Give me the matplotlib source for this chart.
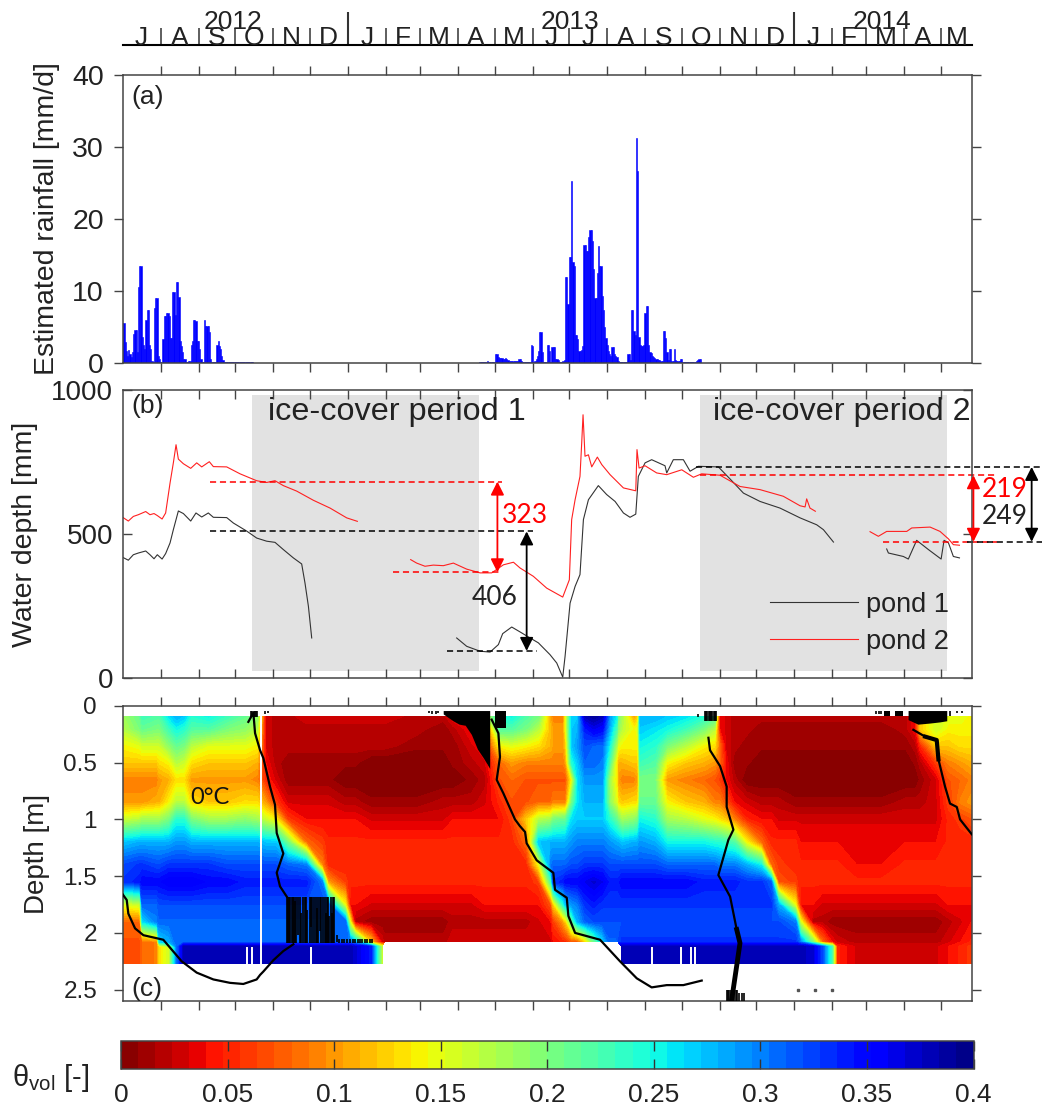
import matplotlib
matplotlib.use('Agg')
import matplotlib.pyplot as plt
import numpy as np

plt.rcParams['font.family'] = ['Liberation Sans', 'DejaVu Sans']
plt.rcParams['mathtext.fontset'] = 'custom'
plt.rcParams['mathtext.rm'] = 'Liberation Sans'
plt.rcParams['axes.linewidth'] = 1.1

# x axis is days since 1 July 2012
month_days = [0, 31, 62, 92, 123, 153, 184, 215, 243, 274, 304, 335, 365, 396,
              427, 457, 488, 518, 549, 580, 608, 639, 669]
month_letters = ['J', 'A', 'S', 'O', 'N', 'D', 'J', 'F', 'M', 'A', 'M', 'J', 'J',
                 'A', 'S', 'O', 'N', 'D', 'J', 'F', 'M', 'A', 'M']
year_ticks = [184, 549]
year_labels = ['2012', '2013', '2014']
year_label_days = [90, 365.6, 620.4]
x_end = 694

# rainfall, daily values [mm/d]
rain_2012 = [5.6, 5.6, 2.9, 1.7, 1, 1.8, 1.3, 0.8, 1.5, 4, 4.6, 4.6, 1.5, 10.5, 13.5, 13.5,
             3.6, 2.5, 2, 6, 7.3, 7.3, 2.5, 1.9, 0.3, 0.1, 7.6, 9, 9, 1, 0.5, 0.1, 0, 3.3,
             6.5, 6.5, 7, 7, 6.5, 3.5, 3.5, 9.8, 9.8, 6.7, 11.3, 11.3, 9.2, 3, 2.3, 1.5, 0.5,
             0.5, 0.2, 0.2, 0.3, 0.3, 2.5, 3, 6, 6, 5.8, 3, 3, 2, 0.5, 0.2, 0.2, 6, 5.2, 5.2,
             5.2, 4.3, 0.5, 0.2, 0.2, 0.2, 0.2, 2.5, 3, 2.4, 2, 1, 0.4, 0.1, 0.1, 0.1, 0.1,
             0.1, 0.1, 0.1, 0.1, 0.1, 0.1, 0.1, 0.1, 0.1, 0.1, 0.1, 0.1, 0.1, 0.1, 0.1, 0.1,
             0.1, 0.1, 0.1, 0.1]
rain_2013_start = 292
rain_2013 = [0.1, 0.1, 0.2, 0.2, 0.1, 0.1, 0.3, 0.1, 0.1, 0.1, 0.1, 0.1, 0.1, 1.2, 1.2, 0.9,
             0.7, 0.7, 0.7, 0.5, 0.5, 0.7, 0.5, 0.4, 0.3, 0.3, 0.3, 0.3, 0.3, 0.3, 0.3, 0.3,
             0.5, 0.5, 0.3, 0.2, 0.1, 0.1, 0.1, 0.1, 0.1, 0.1, 2.5, 2.4, 0.1, 0.3, 0.5, 1.0,
             1.6, 4.3, 4.3, 1.5, 0.2, 0.1, 0.1, 2.5, 2.5, 1.7, 0.1, 2.2, 2.2, 2.2, 0.5, 0.5,
             0.4, 0.2, 0.2, 0.2, 0.3, 0.4, 12, 12, 8.2, 14.7, 14.7, 25.3, 14, 13.5, 3.9, 3.9,
             3.3, 1.7, 1.7, 1.8, 2.3, 16.4, 16.4, 15.5, 15.5, 17.5, 18.5, 18.5, 17, 13, 9, 9,
             12.5, 16.3, 13.5, 13.5, 9.3, 7.3, 5, 3.5, 2.5, 1.7, 1.3, 1, 2.2, 2.2, 1.2, 1, 0.8,
             0.3, 0.1, 0.1, 0.1, 0.1, 0.2, 0.2, 0.2, 1.2, 1.2, 0.4, 7.4, 7.4, 4.4, 3.9, 31.3,
             26.7, 3.6, 2.5, 2.3, 2.4, 2.5, 7, 7.9, 7.9, 2.5, 1.5, 1.4, 1, 0.9, 0.7, 0.6, 0.5,
             0.4, 0.4, 0.3, 0.3, 4.4, 4.4, 3.5, 1.5, 0.4, 1.9, 1.9, 0.3, 0.3, 1.9, 0.4, 0.3,
             0.3, 0.3, 0.5, 0.5, 0.2, 0.2, 0.2, 0.1, 0.1, 0.1, 0.1, 0.1, 0.1, 0.1, 0.1, 0.3,
             0.4, 0.6, 0.6]

# water depth [mm]
pond1_a_days = [0, 4.6, 8.7, 12.8, 18.8, 22.3, 25.6, 28.3, 32.2, 35.1, 38.7, 41.4, 45.5, 49.6,
                55.6, 59.9, 64.6, 70, 74.1, 85, 90.5, 101.4, 109.5, 117.7, 124.5, 131.3, 139.5,
                146.3, 149, 151.8, 154.5]
pond1_a_mm = [419, 409, 428, 434, 441, 428, 414, 428, 413, 432, 469, 515, 580, 571, 545, 573,
              559, 573, 558, 557, 538, 510, 486, 475, 471, 446, 417, 396, 330, 249, 139]
pond1_b_days = [273, 281.2, 292.1, 300.3, 307.1, 310.6, 318, 324.8, 333, 339.8, 349.3, 354.8,
                359.7, 361.6, 365.7, 369.8, 373.8, 376.6, 380.7, 388.8, 395.6, 402.5, 409.3,
                414.7, 419.4, 421.5, 427, 432.4, 443.3, 444.7, 450.1, 458.3, 463.8, 470.6,
                486.9, 496.5, 507.4, 521, 537.3, 553.7, 567.3, 572.8, 581]
pond1_b_mm = [139, 110, 93, 90, 116, 154, 177, 160, 139, 122, 81, 52, 3, 75, 260, 318, 359, 550,
              619, 668, 637, 613, 573, 558, 569, 700, 747, 758, 737, 712, 758, 758, 718, 735,
              733, 691, 642, 613, 590, 556, 532, 515, 472]
pond1_c_days = [624.5, 625.9, 638.1, 642.2, 649, 658.6, 669, 671.4, 675, 679, 684]
pond1_c_mm = [448, 434, 422, 413, 478, 446, 413, 478, 469, 422, 417]

pond2_a_days = [0, 4.6, 8.7, 12.8, 18.8, 22.3, 25.6, 28.3, 32.2, 35.1, 38.7, 41.4, 43.6, 45.5,
                49.6, 55.6, 60.5, 64.6, 70.8, 74.1, 85, 95.9, 109.5, 117.7, 124.5, 131.3, 142.2,
                155.9, 169.5, 183.1, 191.8]
pond2_a_mm = [558, 545, 561, 567, 578, 567, 571, 564, 552, 573, 677, 747, 810, 760, 744, 728,
              747, 733, 751, 734, 733, 709, 685, 679, 685, 668, 649, 617, 590, 556, 544]
pond2_b_days = [235.4, 240.3, 247.1, 253.9, 262.1, 270.3, 281.2, 292.1, 301.6, 311.2, 319.4,
                324.8, 335.7, 346.6, 359.7, 365.1, 367, 369.8, 373.8, 375.2, 376.3, 377.9, 380.7,
                383.4, 388, 391.6, 398.4, 409.3, 419.4, 420.4, 422.1, 427, 436.5, 444.7, 457,
                466.5, 473.3, 488.3, 504.6, 521, 540, 553.7, 557.8, 559.1, 561.8, 566.2]
pond2_b_mm = [411, 399, 388, 392, 390, 399, 378, 365, 365, 393, 402, 382, 353, 312, 281, 341,
              550, 619, 700, 816, 914, 770, 775, 733, 767, 741, 706, 660, 650, 793, 729, 737,
              712, 706, 723, 697, 709, 704, 665, 654, 631, 598, 594, 622, 590, 579]
pond2_c_days = [610.9, 617.7, 624.5, 640.9, 645, 660, 668.1, 675, 679, 684]
pond2_c_mm = [508, 492, 509, 509, 521, 524, 509, 483, 463, 461]

ice_start = [105.5, 472]
ice_end = [291.5, 674]
ice_names = ['ice-cover period 1', 'ice-cover period 2']
ice_name_days = [118.5, 482.6]

# dashed reference levels: level, from day, to day, colour
level_values = [682, 509, 367, 94, 733, 704, 473, 473]
level_from = [71.4, 71.4, 220.7, 265.4, 469, 472, 621.8, 690]
level_to = [310, 335.7, 308.4, 338.4, 751.8, 714.4, 714.4, 751.8]
level_colors = ['red', 'black', 'red', 'black', 'black', 'red', 'red', 'black']

# soil moisture grid
depth_rows = [0.09, 0.2, 0.35, 0.5, 0.65, 0.85, 1.0, 1.2, 1.4, 1.55, 1.75, 1.9, 2.08, 2.12, 2.27]
n = np.nan
theta_days = [0, 14, 16, 28, 30, 38, 44, 50, 56, 70, 85, 100, 110, 117, 125, 135, 150, 163, 168,
              182, 186, 190, 203, 212, 214, 240, 262, 270, 285, 296, 308, 318, 330, 340, 350,
              352, 360, 362, 367, 372, 378, 385, 392, 398, 404, 405, 408, 418, 421, 423, 435,
              445, 460, 475, 484, 488, 493, 500, 510, 522, 530, 536, 550, 554, 564, 572, 580,
              584, 600, 620, 640, 648, 652, 665, 675, 685, 694]
theta_grid = [
    [.18, .17, .14, .12, .09, .10, .16, .27, .32, .33, .15, .08, .07, .07],
    [.21, .20, .15, .12, .09, .10, .17, .28, .33, .34, .16, .08, .07, .07],
    [.23, .21, .16, .12, .09, .10, .18, .28, .33, .35, .31, .26, .08, .08],
    [.22, .20, .16, .12, .09, .11, .18, .28, .32, .35, .31, .30, .09, .09],
    [.22, .20, .16, .13, .10, .11, .18, .28, .32, .35, .32, .31, .26, .13],
    [.26, .23, .19, .14, .11, .14, .20, .28, .33, .36, .32, .31, .28, .16],
    [.28, .25, .21, .17, .13, .17, .24, .29, .33, .36, .32, .31, .31, .30],
    [.27, .24, .20, .16, .13, .17, .24, .29, .33, .36, .32, .31, .31, .38],
    [.24, .22, .17, .13, .10, .13, .20, .28, .33, .36, .32, .31, .31, .38],
    [.25, .22, .15, .12, .10, .12, .18, .28, .33, .35, .32, .31, .31, .38],
    [.23, .20, .15, .12, .10, .12, .18, .28, .32, .35, .32, .31, .31, .38],
    [.21, .19, .15, .12, .10, .13, .19, .28, .32, .34, .32, .31, .31, .38],
    [.19, .17, .14, .11, .09, .13, .18, .28, .32, .34, .32, .31, .31, .38],
    [.03, .03, .03, .04, .05, .10, .16, .27, .32, .34, .32, .31, .31, .38],
    [.02, .02, .02, .02, .03, .06, .14, .27, .32, .34, .32, .31, .31, .38],
    [.02, .02, .02, .01, .01, .03, .06, .20, .31, .34, .32, .31, .31, .38],
    [.03, .02, .02, .01, .01, .03, .04, .08, .30, .34, .32, .31, .31, .38],
    [.03, .02, .02, .01, .01, .03, .04, .06, .09, .30, .32, .31, .31, .38],
    [.03, .02, .02, .01, .01, .03, .04, .05, .05, .10, .31, .31, .31, .38],
    [.03, .02, .02, .01, .00, .02, .04, .05, .05, .06, .14, .31, .31, .38],
    [.03, .02, .02, .01, .00, .02, .04, .05, .05, .05, .04, .14, .30, .38],
    [.03, .02, .02, .01, .00, .02, .04, .05, .05, .05, .04, .02, .28, .37],
    [.03, .02, .02, .00, .00, .01, .03, .05, .05, .05, .03, .01, .12, .34],
    [.03, .02, .02, .00, .00, .01, .03, .05, .05, .05, .03, .01, .03, .16],
    [.03, .02, .02, .00, .00, .01, .03, .05, .05, .05, .03, .01, .02, n],
    [.02, .02, .01, .00, .00, .01, .03, .05, .05, .05, .03, .01, .02, n],
    [.02, .01, .01, .00, .00, .02, .03, .05, .05, .05, .03, .01, .02, n],
    [.04, .02, .01, .01, .00, .02, .04, .05, .05, .05, .03, .02, .03, n],
    [.05, .04, .03, .02, .01, .02, .04, .05, .05, .05, .03, .02, .03, n],
    [.16, .06, .04, .03, .02, .03, .04, .05, .05, .05, .04, .02, .03, n],
    [.24, .22, .14, .08, .07, .05, .04, .05, .05, .05, .04, .02, .03, n],
    [.25, .22, .15, .10, .08, .07, .06, .05, .05, .05, .04, .02, .03, n],
    [.22, .20, .14, .09, .07, .07, .12, .08, .05, .05, .04, .02, .03, n],
    [.20, .17, .13, .09, .07, .08, .17, .27, .14, .06, .04, .03, .03, n],
    [.10, .11, .11, .09, .07, .08, .18, .28, .30, .22, .07, .04, .03, n],
    [.09, .10, .10, .09, .07, .09, .20, .28, .31, .33, .12, .06, .04, n],
    [.09, .10, .10, .09, .07, .09, .21, .28, .31, .34, .24, .10, .05, n],
    [.14, .14, .12, .10, .07, .09, .21, .28, .31, .35, .27, .12, .05, n],
    [.27, .27, .27, .24, .14, .20, .26, .29, .32, .35, .29, .21, .07, n],
    [.27, .28, .29, .27, .26, .26, .27, .30, .32, .35, .30, .28, .07, n],
    [.38, .34, .32, .31, .29, .28, .27, .30, .33, .36, .33, .31, .12, n],
    [.39, .36, .31, .31, .29, .28, .27, .30, .33, .37, .34, .32, .20, n],
    [.38, .35, .31, .30, .29, .28, .27, .30, .33, .36, .33, .32, .26, n],
    [.29, .28, .25, .22, .18, .19, .24, .29, .32, .34, .33, .32, .31, n],
    [.25, .22, .17, .13, .13, .15, .21, .28, .32, .34, .33, .32, .31, n],
    [.20, .19, .15, .11, .10, .13, .20, .28, .32, .34, .33, .32, .32, n],
    [.18, .17, .14, .11, .09, .12, .18, .27, .32, .35, .33, .32, .33, .38],
    [.10, .14, .14, .12, .09, .13, .19, .28, .32, .35, .33, .32, .33, .38],
    [.12, .15, .14, .12, .10, .13, .20, .28, .32, .35, .33, .32, .33, .38],
    [.28, .27, .25, .23, .20, .21, .25, .29, .32, .35, .33, .32, .33, .38],
    [.28, .26, .24, .22, .20, .21, .24, .28, .32, .35, .33, .32, .33, .38],
    [.27, .25, .20, .14, .10, .14, .18, .25, .31, .35, .33, .32, .33, .38],
    [.26, .23, .17, .12, .09, .12, .17, .25, .31, .35, .33, .32, .33, .38],
    [.24, .20, .14, .11, .08, .11, .15, .25, .31, .34, .33, .32, .33, .38],
    [.22, .17, .13, .10, .07, .09, .14, .24, .31, .34, .33, .32, .33, .38],
    [.04, .04, .08, .08, .06, .09, .13, .24, .30, .34, .33, .32, .33, .38],
    [.03, .03, .03, .04, .04, .07, .12, .23, .30, .34, .33, .32, .33, .38],
    [.02, .02, .02, .01, .02, .04, .09, .22, .30, .34, .33, .32, .33, .38],
    [.02, .02, .01, .01, .00, .03, .05, .14, .28, .33, .33, .32, .33, .38],
    [.02, .01, .01, .00, .00, .02, .04, .08, .25, .33, .33, .32, .33, .38],
    [.02, .01, .01, .00, .00, .02, .04, .05, .08, .31, .33, .32, .33, .38],
    [.02, .01, .01, .00, .00, .02, .03, .05, .06, .07, .28, .32, .33, .38],
    [.02, .01, .01, .00, .00, .01, .03, .05, .05, .06, .14, .30, .33, .38],
    [.02, .01, .01, .00, .00, .01, .03, .04, .05, .05, .04, .15, .30, .38],
    [.02, .01, .01, .00, .00, .01, .03, .04, .05, .05, .04, .02, .20, .37],
    [.02, .01, .01, .00, .00, .01, .03, .04, .05, .05, .03, .02, .08, .32],
    [.02, .01, .01, .00, .00, .01, .03, .04, .05, .05, .03, .01, .04, .22],
    [.02, .01, .01, .00, .00, .01, .03, .04, .05, .05, .03, .01, .03, .05],
    [.02, .01, .01, .00, .00, .01, .03, .04, .04, .05, .03, .01, .02, .03],
    [.02, .01, .01, .00, .00, .01, .03, .04, .04, .05, .03, .01, .02, .03],
    [.02, .02, .01, .00, .00, .02, .03, .04, .05, .05, .03, .01, .02, .03],
    [.04, .04, .02, .01, .00, .02, .03, .04, .05, .05, .03, .01, .02, .03],
    [.12, .12, .05, .02, .01, .02, .03, .04, .05, .05, .03, .01, .02, .03],
    [.16, .16, .12, .06, .03, .03, .03, .04, .05, .05, .03, .01, .02, .03],
    [.15, .14, .12, .09, .07, .06, .05, .05, .05, .05, .04, .02, .03, .04],
    [.15, .14, .13, .10, .08, .09, .06, .05, .05, .05, .04, .03, .04, .05],
    [.14, .14, .13, .11, .09, .10, .07, .05, .05, .05, .04, .04, .05, .06],
]

# 0 degC isotherm pieces
iso_a_days = [0, 3.3, 4.6, 10.1, 16.9, 33.2, 38.7, 48.2, 60.5, 74.1, 87.7, 98.6, 109.5, 112.3,
              115, 123.2, 131.3, 139.5]
iso_a_depth = [1.66, 1.71, 1.83, 1.96, 2.02, 2.06, 2.13, 2.25, 2.35, 2.41, 2.44, 2.45, 2.41, 2.37,
               2.34, 2.24, 2.16, 2.10]
iso_b_days = [102.7, 106.8, 108.2, 112.3, 115, 120.4, 124.5, 125.9, 131.3, 125.9, 128.6, 134.1]
iso_b_depth = [0.14, 0.06, 0.24, 0.39, 0.46, 0.71, 0.87, 1.12, 1.30, 1.47, 1.59, 1.68]
iso_c_days = [301.6, 307.1, 308.4, 305.7, 311.2, 315.3, 320.7, 324.8, 328.9, 330.2, 338.4, 352,
              353.4, 363, 364.3, 369.8, 390.2, 406.5, 420.2, 432.4, 444.7, 458.3, 473.3]
iso_c_depth = [0.12, 0.24, 0.45, 0.65, 0.77, 0.87, 1.0, 1.06, 1.11, 1.21, 1.36, 1.47, 1.62, 1.69,
               1.85, 2.0, 2.06, 2.25, 2.40, 2.48, 2.46, 2.46, 2.42]
iso_d_days = [478.8, 480.1, 488.3, 493.7, 493.7, 499.2, 495.1, 486.9, 496.5, 501.9, 504.6, 501.9,
              497.8]
iso_d_depth = [0.28, 0.39, 0.53, 0.71, 0.89, 1.09, 1.18, 1.49, 1.68, 1.97, 2.09, 2.29, 2.59]
iso_e_days = [646.3, 655.9, 665.4, 666.8, 672.2, 676.3, 681.8, 684.5, 694]
iso_e_depth = [0.21, 0.27, 0.30, 0.47, 0.71, 0.86, 0.89, 1.0, 1.13]

# solid black patches near the surface, lower edge in depth
frozen_top = 0.04
patch_2013_days = [262, 266, 270, 275, 280, 285, 290, 295, 300]
patch_2013_depth = [0.07, 0.10, 0.13, 0.16, 0.17, 0.25, 0.38, 0.46, 0.55]
patch_2013b_days = [304, 313]
patch_2013b_depth = [0.19, 0.19]
patch_2014a_days = [622, 627]
patch_2014a_depth = [0.09, 0.09]
patch_2014b_days = [631, 638]
patch_2014b_depth = [0.09, 0.09]
patch_2014c_days = [642, 650, 660, 668, 673.6]
patch_2014c_depth = [0.12, 0.16, 0.15, 0.14, 0.13]

# dense isotherm points, drawn as short vertical marks
frost_days = [105, 106, 107, 108, 109, 110, 116, 119,
              134, 135, 136, 137, 138, 139, 140, 141, 142, 143, 145, 146, 147, 149, 150, 151,
              153, 154, 155, 156, 158, 159, 160, 161, 162, 164, 165, 166, 167, 168, 169, 170,
              171, 172, 173,
              175, 177, 179, 181, 183, 186, 188, 190, 192, 194, 196, 198, 200, 202, 204,
              250, 253, 256, 258,
              476, 477, 478, 479, 480, 481, 482, 483, 484, 485, 470,
              494, 495, 496, 497, 498, 499, 500, 501, 502, 504, 506, 508,
              616, 618, 620, 676, 682, 686]
frost_top = [.04, .04, .04, .04, .04, .04, .04, .04,
             1.68, 1.68, 1.68, 1.68, 1.68, 1.68, 1.68, 1.72, 1.68, 1.68, 1.68, 1.82, 1.68, 1.68,
             1.68, 1.8, 1.68, 1.68, 1.68, 1.68, 1.68, 1.78, 1.68, 1.68, 1.68, 1.68, 1.68, 1.82,
             1.68, 1.68, 1.85, 1.68, 1.82, 1.68, 1.68,
             2.02, 2.05, 2.05, 2.05, 2.05, 2.05, 2.05, 2.05, 2.05, 2.05, 2.05, 2.05, 2.05, 2.05, 2.05,
             .04, .04, .04, .04,
             .04, .04, .04, .04, .04, .04, .04, .04, .04, .04, .07,
             2.5, 2.5, 2.5, 2.5, 2.5, 2.5, 2.5, 2.5, 2.5, 2.53, 2.53, 2.53,
             .04, .04, .04, .04, .04, .04]
frost_bottom = [.1, .1, .1, .1, .1, .1, .07, .06,
                2.09, 2.09, 2.09, 2.09, 2.09, 2.09, 2.09, 2.09, 2.09, 2.02, 2.09, 2.09, 2.09, 2.09,
                2.09, 2.09, 2.09, 1.95, 2.09, 2.09, 2.09, 2.09, 2.09, 1.98, 2.09, 2.09, 2.09, 2.09,
                2.09, 2.09, 2.09, 2.09, 2.09, 2.09, 2.09,
                2.08, 2.09, 2.09, 2.09, 2.09, 2.09, 2.09, 2.09, 2.09, 2.09, 2.09, 2.09, 2.09, 2.09, 2.09,
                .06, .07, .07, .06,
                .13, .13, .13, .13, .13, .13, .13, .13, .13, .13, .1,
                2.6, 2.6, 2.6, 2.6, 2.6, 2.6, 2.6, 2.6, 2.6, 2.6, 2.6, 2.6,
                .07, .07, .07, .09, .06, .06]
dot_days = [552, 565.7, 580]
dot_depth = [2.5, 2.5, 2.5]

# gaps in the record: day and depth where the white stripe starts
gap_days = [112.8, 101.4, 105.4, 153.7, 432.4, 456.1, 464.3, 467.9]
gap_top = [0.09, 2.12, 2.12, 2.12, 2.12, 2.12, 2.12, 2.12]

cbar_ticks = [0, 0.05, 0.1, 0.15, 0.2, 0.25, 0.3, 0.35, 0.4]
cbar_labels = ['0', '0.05', '0.1', '0.15', '0.2', '0.25', '0.3', '0.35', '0.4']


W, H = 1042, 1110


def px_axes(x0, y0, x1, y1):
    return fig.add_axes([x0 / W, 1 - y1 / H, (x1 - x0) / W, (y1 - y0) / H])


fig = plt.figure(figsize=(W / 100, H / 100), dpi=100)
left, right = 122.7, 971.7
edge = '#444444'
fs = 19

# month strip on top
ax_top = px_axes(left, 12, right, 45)
ax_top.set_xlim(0, x_end)
ax_top.set_ylim(0, 1)
ax_top.patch.set_alpha(0)
for s in ['top', 'left', 'right']:
    ax_top.spines[s].set_visible(False)
ax_top.spines['bottom'].set_linewidth(1.5)
ax_top.set_yticks([])
ax_top.set_xticks(month_days[1:])
ax_top.set_xticklabels([])
ax_top.tick_params(axis='x', direction='in', length=12, width=1.1, color='#333333')
ax_top.vlines(year_ticks, 0, 1, color='#333333', lw=1.5)
ends = month_days[1:] + [x_end]
for d0, d1, letter in zip(month_days, ends, month_letters):
    ax_top.text((d0 + d1) / 2, 0.0, letter, ha='center', va='baseline', fontsize=fs, color='#222222')
for d, label in zip(year_label_days, year_labels):
    ax_top.text(d, 0.48, label, ha='center', va='baseline', fontsize=fs, color='#222222')

# (a) rainfall
ax_a = px_axes(left, 75, right, 363)
ax_a.bar(np.arange(len(rain_2012)), rain_2012, width=1.0, color='#0000ff', edgecolor='#0000ff', linewidth=0.4)
ax_a.bar(rain_2013_start + np.arange(len(rain_2013)), rain_2013, width=1.0, color='#0000ff',
         edgecolor='#0000ff', linewidth=0.4)
ax_a.set_ylim(0, 40)
ax_a.set_yticks([0, 10, 20, 30, 40])
ax_a.set_ylabel('Estimated rainfall [mm/d]', fontsize=20.5, color='#222222')
ax_a.yaxis.set_label_coords(-(left - 60) / (right - left), 0.5)
ax_a.text(0.01, 0.925, '(a)', transform=ax_a.transAxes, fontsize=19, ha='left', va='center', color='#222222')

# (b) water depth
ax_b = px_axes(left, 390, right, 678)
for x0, x1 in zip(ice_start, ice_end):
    ax_b.axvspan(x0, x1, ymin=0.025, ymax=0.984, color='#e2e2e2', lw=0, zorder=0)
for d, name in zip(ice_name_days, ice_names):
    ax_b.text(d, 922, name, fontsize=23.3, ha='left', va='center', color='#222222')
ax_b.plot(pond1_a_days, pond1_a_mm, color='#333333', lw=0.8, label='pond 1')
ax_b.plot(pond1_b_days, pond1_b_mm, color='#333333', lw=0.8)
ax_b.plot(pond1_c_days, pond1_c_mm, color='#333333', lw=0.8)
ax_b.plot(pond2_a_days, pond2_a_mm, color='#ff2020', lw=0.8, label='pond 2')
ax_b.plot(pond2_b_days, pond2_b_mm, color='#ff2020', lw=0.8)
ax_b.plot(pond2_c_days, pond2_c_mm, color='#ff2020', lw=0.8)
for y, a, b, c in zip(level_values, level_from, level_to, level_colors):
    ax_b.plot([a, b], [y, y], color=c, lw=1.1, ls=(0, (4, 2.5)), clip_on=False)
ax_b.set_ylim(0, 1000)
ax_b.set_yticks([0, 500, 1000])
ax_b.set_ylabel('Water depth [mm]', fontsize=20.5, color='#222222')
ax_b.yaxis.set_label_coords(-(left - 38) / (right - left), 0.5)
ax_b.text(0.01, 0.945, '(b)', transform=ax_b.transAxes, fontsize=19, ha='left', va='center', color='#222222')
ax_b.legend(loc='lower left', bbox_to_anchor=(0.762, 0.08), frameon=False, fontsize=19.5, handlelength=3.25,
            handletextpad=0.3, labelspacing=0.42, borderpad=0, borderaxespad=0, labelcolor='#222222')

arrow_days = [306.3, 330.2, 695.4, 743]
arrow_top = [682, 509, 704, 733]
arrow_bottom = [367, 94, 473, 473]
arrow_colors = ['red', 'black', 'red', 'black']
for d, y0, y1, c in zip(arrow_days, arrow_top, arrow_bottom, arrow_colors):
    ax_b.annotate('', xy=(d, y0), xytext=(d, y1), annotation_clip=False,
                  arrowprops=dict(arrowstyle='<|-|>', color=c, lw=1.3, shrinkA=0, shrinkB=0, mutation_scale=20))
note_text = ['323', '406', '219', '249']
note_days = [329, 304, 721, 721]
note_mm = [563, 281, 656, 562]
note_colors = ['red', '#222222', 'red', '#222222']
for t, d, y, c in zip(note_text, note_days, note_mm, note_colors):
    ax_b.text(d, y, t, color=c, fontsize=19, family='Lato', ha='center', va='center')

# (c) soil moisture
ax_c = px_axes(left, 706, right, 1001)
levels = np.linspace(0, 0.4, 51)
theta_cols = np.array(theta_grid)
# the deep band from 2.12 m down reads as one level, so the last column is repeated
theta_cols = np.insert(theta_cols, 13, theta_cols[:, 13], axis=1)
theta = np.ma.masked_invalid(theta_cols.T)
field = ax_c.contourf(theta_days, depth_rows, theta, levels=levels, cmap='jet_r', vmin=0, vmax=0.4, zorder=1)
ax_c.vlines(gap_days, gap_top, 2.27, color='white', lw=1.4, zorder=2)
ax_c.vlines(frost_days, frost_top, frost_bottom, color='black', lw=1.2, zorder=3)
for xs, ys in [(patch_2013_days, patch_2013_depth), (patch_2013b_days, patch_2013b_depth),
               (patch_2014a_days, patch_2014a_depth), (patch_2014b_days, patch_2014b_depth),
               (patch_2014c_days, patch_2014c_depth)]:
    ax_c.fill_between(xs, frozen_top, ys, color='black', lw=0, zorder=3)
for xs, ys in [(iso_a_days, iso_a_depth), (iso_b_days, iso_b_depth), (iso_c_days, iso_c_depth),
               (iso_d_days, iso_d_depth), (iso_e_days, iso_e_depth)]:
    ax_c.plot(xs, ys, color='black', lw=1.6, zorder=4)
ax_c.plot(iso_d_days[-4:], iso_d_depth[-4:], color='black', lw=3.5, zorder=4)
ax_c.plot(iso_e_days[1:4], iso_e_depth[1:4], color='black', lw=3, zorder=4)
ax_c.plot(dot_days, dot_depth, ls='none', marker='s', ms=1.5, color='#555555', zorder=4)
ax_c.set_ylim(2.6, 0)
ax_c.set_yticks([0, 0.5, 1, 1.5, 2, 2.5])
ax_c.set_yticklabels(['0', '0.5', '1', '1.5', '2', '2.5'])
ax_c.set_ylabel('Depth [m]', fontsize=20, color='#222222')
ax_c.yaxis.set_label_coords(-(left - 50) / (right - left), 0.5)
ax_c.text(0.01, 0.04, '(c)', transform=ax_c.transAxes, fontsize=19, ha='left', va='center', color='#222222')
ax_c.text(71.4, 0.81, '0°C', fontsize=17, family='Lato', ha='center', va='center', color='#111111', zorder=5)

# shared axis styling
for ax, way, size, gap in [(ax_a, 'out', 20.5, 7), (ax_b, 'in', 20, 7), (ax_c, 'out', 17.5, 12)]:
    ax.set_xlim(0, x_end)
    ax.set_xticks(month_days[1:])
    ax.set_xticklabels([])
    ax.tick_params(axis='both', direction=way, length=6.5, width=1.0, top=True, right=True,
                   labelsize=size, color=edge, labelcolor='#222222', pad=gap)
    for s in ax.spines.values():
        s.set_color(edge)

# colour bar
cax = px_axes(121, 1041, 973.5, 1069)
cbar = fig.colorbar(field, cax=cax, orientation='horizontal')
cbar.set_ticks(cbar_ticks)
cbar.set_ticklabels(cbar_labels)
cax.tick_params(axis='x', direction='in', length=7, width=1.0, top=True, bottom=True, labelsize=fs,
                color='#333333', labelcolor='#222222', pad=10)
cbar.outline.set_edgecolor(edge)
fig.text(12 / W, 1 - 1078 / H, r'$\mathrm{\theta_{vol}}$ [-]', fontsize=21, ha='left', va='center', color='#222222')

fig.savefig('out.png', dpi=100)
